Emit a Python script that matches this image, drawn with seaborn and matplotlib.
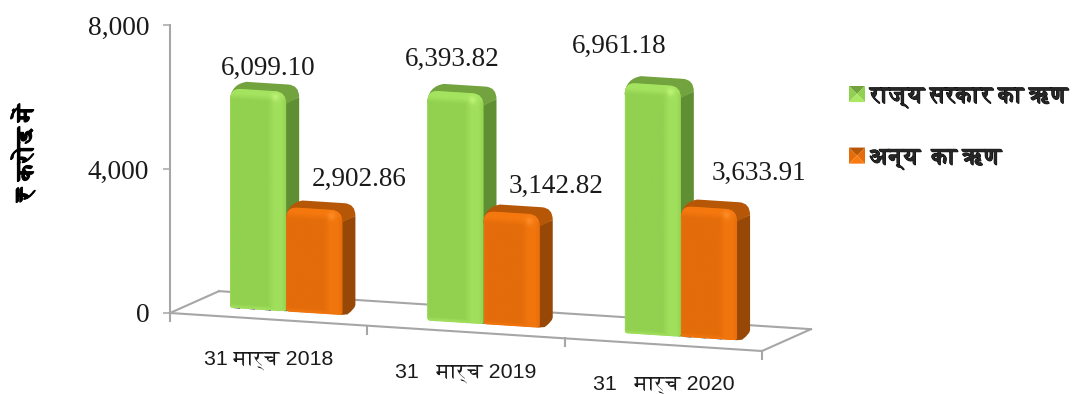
import numpy as np
import pandas as pd
import matplotlib
matplotlib.use("Agg")
import matplotlib.pyplot as plt
import matplotlib.patheffects as pe
import seaborn as sns
from matplotlib.colors import to_rgb
from matplotlib.legend_handler import HandlerBase
from matplotlib.patches import PathPatch, Patch, Polygon
from matplotlib.path import Path
from matplotlib.transforms import Affine2D

# Debt outstanding at each year end
dates = ["31 मार्च 2018", "31   मार्च 2019", "31   मार्च 2020"]
state_debt = [6099.10, 6393.82, 6961.18]
other_debt = [2902.86, 3142.82, 3633.91]
series_names = ["राज्य सरकार का ऋण", "अन्य  का ऋण"]
y_ticks = [0, 4000, 8000]
y_title = "₹ करोड़ में"

# Label displacement from the top centre of each bar's front, in pixels
state_label_shift = [(10, 15), (-3.5, 26), (-34, 31)]
other_label_shift = [(45, 23), (44.5, 20), (50, 28)]

FIG_W, FIG_H = 1072, 394
AX_LEFT, AX_RIGHT, AX_TOP, AX_BOTTOM = 170, 762, 25, 313
SERIF = ["Liberation Serif", "DejaVu Serif"]
SANS = ["Liberation Sans", "FreeSerif", "DejaVu Sans"]
BOLD_DEVA = ["FreeSerif", "DejaVu Sans"]
GREY = "#a6a6a6"

palette = {
    series_names[0]: dict(base="#92d050", light="#a9e863", glow="#c2f57a", side="#5f8e33", top="#72a33e"),
    series_names[1]: dict(base="#e46c0a", light="#f97b10", glow="#ff8f2a", side="#974806", top="#b55707"),
}

sns.set_theme(style="white")
plt.rcParams["font.family"] = SERIF

fig = plt.figure(figsize=(FIG_W / 100, FIG_H / 100), dpi=100, facecolor="white")
ax = fig.add_axes([
    AX_LEFT / FIG_W,
    1 - AX_BOTTOM / FIG_H,
    (AX_RIGHT - AX_LEFT) / FIG_W,
    (AX_BOTTOM - AX_TOP) / FIG_H,
])

frame = pd.DataFrame({
    "date": dates * 2,
    "debt": state_debt + other_debt,
    "series": [series_names[0]] * 3 + [series_names[1]] * 3,
})
sns.barplot(
    data=frame, x="date", y="debt", hue="series", order=dates, hue_order=series_names,
    palette={k: v["base"] for k, v in palette.items()},
    width=0.57, gap=0, dodge=True, legend=False, saturation=1, ax=ax, linewidth=0,
)
ax.set_xlim(-0.5, 2.5)
ax.set_ylim(0, 8000)

px_x = (AX_RIGHT - AX_LEFT) / 3            # pixels per category
px_y = (AX_BOTTOM - AX_TOP) / 8000         # pixels per rupee crore


def cat(px):
    return px / px_x


def val(px):
    return px / px_y


# The floor slopes downwards to the right; every mark sits on this sheared plane
tilt = val(12.67)
floor = Affine2D.from_values(1, -tilt, 0, 1, 0, -tilt * 0.5)
floor_data = floor + ax.transData
bar_seat = Affine2D().translate(cat(17.5), val(9))
bar_data = bar_seat + floor_data

# Floor outline and its tick marks
depth_x, depth_y = cat(49), val(25)
floor_line = dict(color=GREY, lw=1.5, transform=floor_data, clip_on=False, zorder=1, solid_capstyle="projecting")
ax.plot([-0.5, 2.5], [0, 0], **floor_line)
ax.plot([-0.5, -0.5 + depth_x], [0, depth_y], **floor_line)
ax.plot([2.5, 2.5 + depth_x], [0, depth_y], **floor_line)
ax.plot([-0.5 + depth_x, 2.5 + depth_x], [depth_y, depth_y], **floor_line)
for boundary in np.arange(-0.5, 3):
    ax.plot([boundary, boundary], [0, -val(8)], **floor_line)

side_dx, side_dy = cat(13), val(7.5)
corner_x, corner_y = cat(11), val(12)
foot_x, foot_y = cat(3), val(3)


def front_path(x0, x1, h):
    """Front face with large rounded shoulders and slightly eased feet."""
    return Path(
        [(x0 + foot_x, 0), (x0, 0), (x0, foot_y), (x0, h - corner_y), (x0, h), (x0 + corner_x, h),
         (x1 - corner_x, h), (x1, h), (x1, h - corner_y), (x1, foot_y), (x1, 0), (x1 - foot_x, 0),
         (x0 + foot_x, 0)],
        [Path.MOVETO, Path.CURVE3, Path.CURVE3, Path.LINETO, Path.CURVE3, Path.CURVE3,
         Path.LINETO, Path.CURVE3, Path.CURVE3, Path.LINETO, Path.CURVE3, Path.CURVE3,
         Path.CLOSEPOLY],
    )


def shoulder_path(x0, x1, h):
    """Top face: runs from the rounded front shoulders back to the rear edge."""
    back_right = x1 + side_dx
    top = h + side_dy
    return Path(
        [(x0, h - corner_y), (x0 + cat(1), h + val(4)), (x0 + corner_x * 1.5, top),
         (back_right - corner_x, top), (back_right, top), (back_right, top - corner_y),
         (x1, h - corner_y), (x0, h - corner_y)],
        [Path.MOVETO, Path.CURVE3, Path.CURVE3,
         Path.LINETO, Path.CURVE3, Path.CURVE3, Path.LINETO, Path.CLOSEPOLY],
    )


def side_path(x1, h):
    """Right-hand face, tapering into the floor at its lower corner."""
    back_right = x1 + side_dx
    top = h + side_dy
    return Path(
        [(x1 - cat(2), h - corner_y), (back_right, top - corner_y), (back_right, side_dy + val(4)),
         (back_right, side_dy), (x1 + cat(5), val(1)), (x1 - cat(2), 0), (x1 - cat(2), h - corner_y)],
        [Path.MOVETO, Path.LINETO, Path.LINETO, Path.CURVE3, Path.CURVE3, Path.LINETO, Path.CLOSEPOLY],
    )


def shaded_front(colors, h):
    """Front-face shading: a bright band to the right, lit shoulder and foot bevels."""
    nx, ny = 56, max(int(h * px_y), 2)
    u = (np.arange(nx) + 0.5) / nx
    v = (np.arange(ny) + 0.5) / ny           # 0 at the top of the face
    base = np.array(to_rgb(colors["base"]))
    light = np.array(to_rgb(colors["light"]))
    glow = np.array(to_rgb(colors["glow"]))
    uu, vv = np.meshgrid(u, v)
    yy = vv * ny
    band = np.clip((uu - 0.66) / 0.12, 0, 1) * np.clip((1.0 - uu) / 0.1, 0, 1)
    amount = 0.65 * band
    amount = np.maximum(amount, 0.8 * np.clip((12 - yy) / 6, 0, 1))
    amount = np.maximum(amount, 0.6 * np.clip((4 - (ny - yy)) / 3, 0, 1))
    amount = np.maximum(amount, 0.4 * np.clip((0.03 - uu) / 0.03, 0, 1))
    shade = base + (light - base) * amount[..., None]
    spot = np.exp(-((uu - 0.8) / 0.07) ** 2 - ((yy - 7) / 4.0) ** 2)[..., None]
    return shade + (glow - shade) * spot * 0.85


for container, name, heights, shifts in zip(
    ax.containers, series_names, (state_debt, other_debt), (state_label_shift, other_label_shift)
):
    colors = palette[name]
    layer = 2 if name == series_names[0] else 3
    for rect, height, shift in zip(container.patches, heights, shifts):
        x0, x1 = rect.get_x(), rect.get_x() + rect.get_width()
        h = rect.get_height()
        ax.add_patch(PathPatch(side_path(x1, h), fc=colors["side"], ec="none",
                               transform=bar_data, clip_on=False, zorder=layer))
        ax.add_patch(PathPatch(shoulder_path(x0, x1, h), fc=colors["top"], ec="none",
                               transform=bar_data, clip_on=False, zorder=layer + 0.1))
        outline = PathPatch(front_path(x0, x1, h), transform=bar_data, fc="none", ec="none", zorder=layer + 0.2)
        ax.add_patch(outline)
        rect.set_transform(bar_data)
        rect.set_zorder(layer + 0.2)
        rect.set_clip_path(outline)
        rect.set_clip_box(fig.bbox)
        image = ax.imshow(
            shaded_front(colors, h), extent=(x0, x1, 0, h), origin="upper", aspect="auto",
            interpolation="bilinear", transform=bar_data, zorder=layer + 0.3,
        )
        image.set_clip_path(outline)
        image.set_clip_box(fig.bbox)
        ax.annotate(
            f"{height:,.2f}", xy=((x0 + x1) / 2, height), xycoords=bar_data,
            xytext=shift, textcoords="offset pixels", ha="center", va="baseline",
            fontsize=19.5, color="#1a1a1a", family=SERIF, zorder=6, annotation_clip=False,
        )

ax.set_xlim(-0.5, 2.5)
ax.set_ylim(0, 8000)

# Category labels ride along the sloping floor edge
for position, label in enumerate(dates):
    ax.text(position, -val(41), label, transform=floor_data, ha="center", va="center",
            fontsize=15.4, color="#1a1a1a", family=SANS, clip_on=False)

ax.set_xlabel("")
ax.set_ylabel("")
ax.set_xticks([])
ax.set_yticks(y_ticks)
ax.set_yticklabels([f"{t:,}" for t in y_ticks], fontsize=19.8, color="#1a1a1a", family=SERIF)
ax.tick_params(axis="y", length=5, width=1.1, color=GREY, pad=10, left=True)
sns.despine(ax=ax, top=True, right=True, bottom=True)
ax.spines["left"].set_color(GREY)
ax.spines["left"].set_linewidth(1.5)
ax.patch.set_alpha(0)

heavy = [pe.withStroke(linewidth=0.7, foreground="black")]
fig.text(25 / FIG_W, 1 - 154 / FIG_H, y_title, rotation=90, ha="center", va="center",
         fontsize=17.5, fontweight="bold", color="black", family=BOLD_DEVA, path_effects=heavy)


class PyramidSwatch(HandlerBase):
    """Legend key drawn as a small bevelled square."""

    def create_artists(self, legend, orig, xd, yd, width, height, fontsize, trans):
        colors = palette[orig.get_label()]
        x0, y0 = -xd, -yd
        x1, y1 = x0 + width, y0 + height
        cx, cy = (x0 + x1) / 2, (y0 + y1) / 2
        faces = [
            ([(x0, y1), (x1, y1), (cx, cy)], colors["top"]),
            ([(x0, y0), (x0, y1), (cx, cy)], colors["base"]),
            ([(x1, y0), (x1, y1), (cx, cy)], colors["base"]),
            ([(x0, y0), (x1, y0), (cx, cy)], colors["light"]),
        ]
        return [Polygon(pts, closed=True, fc=fc, ec="none", transform=trans) for pts, fc in faces]


handles = [Patch(label=name) for name in series_names]
legend = fig.legend(
    handles=handles, labels=series_names, handler_map={Patch: PyramidSwatch()},
    loc="upper left", bbox_to_anchor=(849 / FIG_W, 1 - 86 / FIG_H), frameon=False,
    prop={"family": BOLD_DEVA, "weight": "bold", "size": 16.7},
    handlelength=0.69, handleheight=0.69, handletextpad=0.22, labelspacing=1.72,
    borderpad=0, borderaxespad=0,
)
for entry in legend.get_texts():
    entry.set_path_effects(heavy)

fig.savefig("out.png", dpi=100, facecolor="white")
